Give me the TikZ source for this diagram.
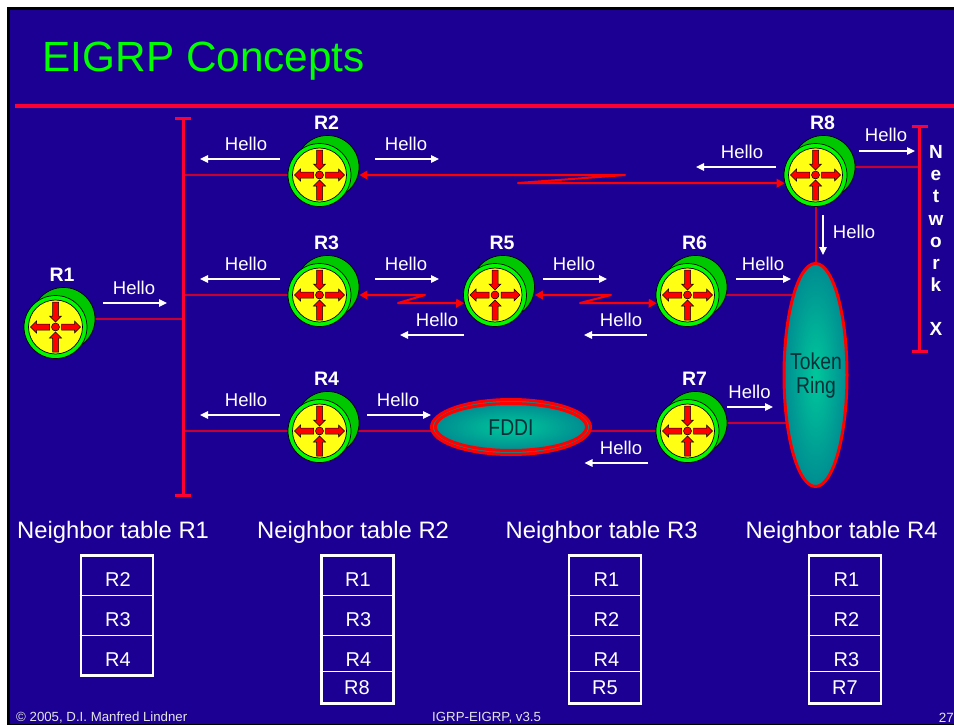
\documentclass[tikz,border=0pt]{standalone}
\usepackage{fontspec}
\setmainfont{Liberation Sans}
\newfontfamily\narrowfont[FakeStretch=0.84]{Liberation Sans}
\usetikzlibrary{arrows.meta,backgrounds,shapes.geometric}
\definecolor{slide}{HTML}{1C0094}
\definecolor{rule}{HTML}{FF0033}
\definecolor{wire}{HTML}{C80030}
\definecolor{frontg}{HTML}{00F800}
\definecolor{backg}{HTML}{00C800}
\definecolor{routery}{HTML}{FFFF14}
\definecolor{foot}{HTML}{E4E4E4}
\definecolor{nettext}{HTML}{02303A}
\definecolor{netin}{RGB}{0,200,155}
\definecolor{netout}{RGB}{0,140,145}
\tikzset{
  backdisc/.style={circle,minimum size=63pt,inner sep=0pt,draw=black,line width=.7pt,fill=backg},
  frontdisc/.style={circle,minimum size=63pt,inner sep=0pt,draw=black,line width=.7pt,fill=frontg},
  facedisc/.style={draw=black,line width=.7pt,fill=routery},
  raro/.style={draw=black,line width=.5pt,fill=red},
  rlabel/.style={anchor=base,text=white,font=\fontsize{19.5}{22}\selectfont\bfseries},
  hellolabel/.style={anchor=base,text=white,font=\fontsize{18.5}{22}\selectfont},
  helloarrow/.style={draw=white,line width=1.2pt,-{Triangle[length=8pt,width=7.5pt]}},
  wireline/.style={draw=wire,line width=1.1pt},
  serial/.style={draw=red,line width=2pt,line join=round,{Triangle[length=8pt,width=8.5pt]}-{Triangle[length=8pt,width=8.5pt]}},
  busbar/.style={fill=rule,inner sep=0pt,minimum width=3pt},
  buscap/.style={draw=rule,line width=3pt},
  netshape/.style={ellipse,inner sep=0pt,draw=red,line width=3pt,inner color=netin,outer color=netout},
  nettext/.style={text=nettext,font=\narrowfont\fontsize{23}{24}\selectfont,align=center,inner sep=0pt},
  tablehead/.style={anchor=base west,inner sep=0pt,text=white,font=\fontsize{23.8}{28}\selectfont},
  tableframe/.style={draw=white,line width=2.8pt,inner sep=0pt},
  tablerule/.style={draw=white,line width=1.2pt},
  cell/.style={anchor=base,text=white,font=\fontsize{20}{24}\selectfont},
  foottext/.style={anchor=base west,inner sep=0pt,text=foot,font=\fontsize{13.25}{16}\selectfont},
}
\newcommand\routerarrows[1]{%
  \begin{scope}[shift={(#1)}]
    \foreach \a in {0,180}{
      \draw[raro,rotate=\a] (-3,-25) -- (3,-25) -- (3,-11) -- (6,-11) -- (0,-5) -- (-6,-11) -- (-3,-11) -- cycle;
      \draw[raro,rotate=\a] (6,-3) -- (19,-3) -- (19,-6) -- (25,0) -- (19,6) -- (19,3) -- (6,3) -- cycle;
    }
    \draw[raro] (0,0) circle (4pt);
  \end{scope}}
\newcommand\router[5]{% name, x, y, label x, label baseline
  \node[backdisc] (#1b) at (#2+8,#3-8) {};
  \node[frontdisc] (#1) at (#2,#3) {};
  \draw[facedisc] (#1) circle (27pt);
  \routerarrows{#1}
  \node[rlabel] (#1t) at (#4,#5) {\MakeUppercase{#1}};}
\newcommand\hello[7]{% id, x1, y1, x2, y2, label x, label baseline
  \coordinate (h#1a) at (#2,#3);
  \coordinate (h#1b) at (#4,#5);
  \draw[helloarrow] (h#1a) -- (h#1b);
  \node[hellolabel] (h#1t) at (#6,#7) {Hello};}
\begin{document}
\begin{tikzpicture}[x=1pt,y=-1pt]
\useasboundingbox (0,0) rectangle (954,725);
% routers
\router{r1}{55.5}{327}{62}{281}
\router{r2}{319.5}{175}{326.5}{129}
\router{r3}{319.5}{295}{326.5}{249}
\router{r4}{319.5}{431}{326.5}{385}
\router{r5}{495}{295}{502}{249}
\router{r6}{687.5}{295}{694.5}{249}
\router{r7}{687.5}{431}{694.5}{385}
\router{r8}{815.5}{175}{822.5}{129}
% shared media
\node[busbar,minimum height=376pt] (bus) at (183,307) {};
\draw[buscap] ([xshift=-8pt]bus.north) -- ([xshift=8pt]bus.north);
\draw[buscap] ([xshift=-8pt]bus.south) -- ([xshift=8pt]bus.south);
\node[busbar,minimum height=224pt] (netx) at (919.5,239) {};
\draw[buscap] ([xshift=-8pt]netx.north) -- ([xshift=8pt]netx.north);
\draw[buscap] ([xshift=-8pt]netx.south) -- ([xshift=8pt]netx.south);
\node[anchor=north,align=center,text=white,font=\fontsize{19}{22.15}\selectfont\bfseries] (netxt) at (936,142) {N\\e\\t\\w\\o\\r\\k\\~\\X};
\node[netshape,minimum width=63pt,minimum height=223pt] (ring) at (815.5,375) {};
\node[nettext] (ringt) at (816,376) {Token\\Ring};
\node[ellipse,inner sep=0pt,minimum width=159pt,minimum height=55pt,draw=red,line width=3pt,fill=netout] (fddio) at (511,427) {};
\node[netshape,minimum width=151pt,minimum height=47pt] (fddi) at (511,427) {};
\node[nettext] (fddit) at (511,428) {FDDI};
% zigzag coordinates
\coordinate (z28a) at (625,175);
\coordinate (z28b) at (518,183);
\coordinate (z35a) at (425,295);
\coordinate (z35b) at (398,303);
\coordinate (z56a) at (611,295);
\coordinate (z56b) at (580,303);
\begin{scope}[on background layer]
  \fill[white] (0,0) rectangle (954,725);
  \fill[black] (7,7) rectangle (954,725);
  \fill[slide] (10,10) rectangle (954,724);
  \draw[rule,line width=4pt] (15,106) -- (954,106);
  \draw[wireline] (r1b) -- (r1b -| bus);
  \draw[wireline] (r2) -- (r2 -| bus);
  \draw[wireline] (r3) -- (r3 -| bus);
  \draw[wireline] (r4) -- (r4 -| bus);
  \draw[wireline] (r4) -- (r4 -| fddi);
  \draw[wireline] (r7) -- (r7 -| fddi);
  \draw[wireline] (r6) -- (r6 -| ring);
  \draw[wireline] (r7b) -- (r7b -| ring);
  \draw[wireline] (r8b) -- (r8b -| netx);
  \draw[wireline,line width=2pt] (r8) -- (ring);
\end{scope}
\draw[serial] (r2b.east |- r2) -- (z28a) -- (z28b) -- (r8.195);
\draw[serial] (r3b.east |- r3) -- (z35a) -- (z35b) -- (r5.195);
\draw[serial] (r5b.east |- r5) -- (z56a) -- (z56b) -- (r6.195);
% hello
\hello{a}{103}{303}{167}{303}{134}{294.3}
\hello{b}{280}{159}{200}{159}{246}{150}
\hello{c}{375}{159}{439}{159}{406}{150}
\hello{d}{280}{279}{200}{279}{246}{270}
\hello{e}{375}{279}{439}{279}{406}{270}
\hello{f}{464}{335}{400}{335}{437}{326}
\hello{g}{543}{279}{607}{279}{574}{270}
\hello{h}{647}{335}{584}{335}{621}{326}
\hello{i}{736}{279}{791}{279}{763}{270}
\hello{j}{776}{167}{696}{167}{742}{158}
\hello{k}{859}{151}{915}{151}{886}{142}
\hello{l}{823}{215}{823}{255}{854}{238}
\hello{m}{280}{415}{200}{415}{246}{406}
\hello{n}{367}{415}{431}{415}{398}{406}
\hello{o}{727}{407}{773}{407}{749.5}{398}
\hello{p}{648}{463}{584.5}{463}{621}{454}
% title and footer
\node[anchor=base west,text=green,font=\fontsize{42.3}{48}\selectfont,inner sep=0pt] (title) at (42.5,72) {EIGRP Concepts};
\node[foottext] (f1) at (16,721) {© 2005, D.I. Manfred Lindner};
\node[foottext] (f2) at (432,721) {IGRP-EIGRP, v3.5};
\node[foottext,font=\fontsize{13.4}{16}\selectfont] (f3) at (938.6,722) {27};
% table headings
\node[tablehead] (th1) at (17,538) {Neighbor table R1};
\node[tablehead] (th2) at (257,538) {Neighbor table R2};
\node[tablehead] (th3) at (505.5,538) {Neighbor table R3};
\node[tablehead] (th4) at (745.5,538) {Neighbor table R4};
% table 1
\node[tableframe,minimum width=72pt,minimum height=120pt] (t1) at (117,615.5) {};
\draw[tablerule] (t1.west |- 0,595.3) -- (t1.east |- 0,595.3);
\draw[tablerule] (t1.west |- 0,635.3) -- (t1.east |- 0,635.3);
\node[cell] (t1a) at (118,586.5) {R2};
\node[cell] (t1b) at (118,626.5) {R3};
\node[cell] (t1c) at (118,666.5) {R4};
% table 2
\node[tableframe,minimum width=72pt,minimum height=148pt] (t2) at (357.3,629.5) {};
\draw[tablerule] (t2.west |- 0,595.3) -- (t2.east |- 0,595.3);
\draw[tablerule] (t2.west |- 0,635.3) -- (t2.east |- 0,635.3);
\draw[tablerule] (t2.west |- 0,671.3) -- (t2.east |- 0,671.3);
\node[cell] (t2a) at (358,586.5) {R1};
\node[cell] (t2b) at (358.5,626.5) {R3};
\node[cell] (t2c) at (358.5,666.5) {R4};
\node[cell] (t2d) at (357,694) {R8};
% table 3
\node[tableframe,minimum width=72pt,minimum height=148pt] (t3) at (605,629.5) {};
\draw[tablerule] (t3.west |- 0,595.3) -- (t3.east |- 0,595.3);
\draw[tablerule] (t3.west |- 0,635.3) -- (t3.east |- 0,635.3);
\draw[tablerule] (t3.west |- 0,671.3) -- (t3.east |- 0,671.3);
\node[cell] (t3a) at (606.5,586.5) {R1};
\node[cell] (t3b) at (606.5,626.5) {R2};
\node[cell] (t3c) at (606.5,666.5) {R4};
\node[cell] (t3d) at (605,694) {R5};
% table 4
\node[tableframe,minimum width=72pt,minimum height=148pt] (t4) at (845,629.5) {};
\draw[tablerule] (t4.west |- 0,595.3) -- (t4.east |- 0,595.3);
\draw[tablerule] (t4.west |- 0,635.3) -- (t4.east |- 0,635.3);
\draw[tablerule] (t4.west |- 0,671.3) -- (t4.east |- 0,671.3);
\node[cell] (t4a) at (846.5,586.5) {R1};
\node[cell] (t4b) at (846.5,626.5) {R2};
\node[cell] (t4c) at (846.5,666.5) {R3};
\node[cell] (t4d) at (845,694) {R7};
\end{tikzpicture}
\end{document}
